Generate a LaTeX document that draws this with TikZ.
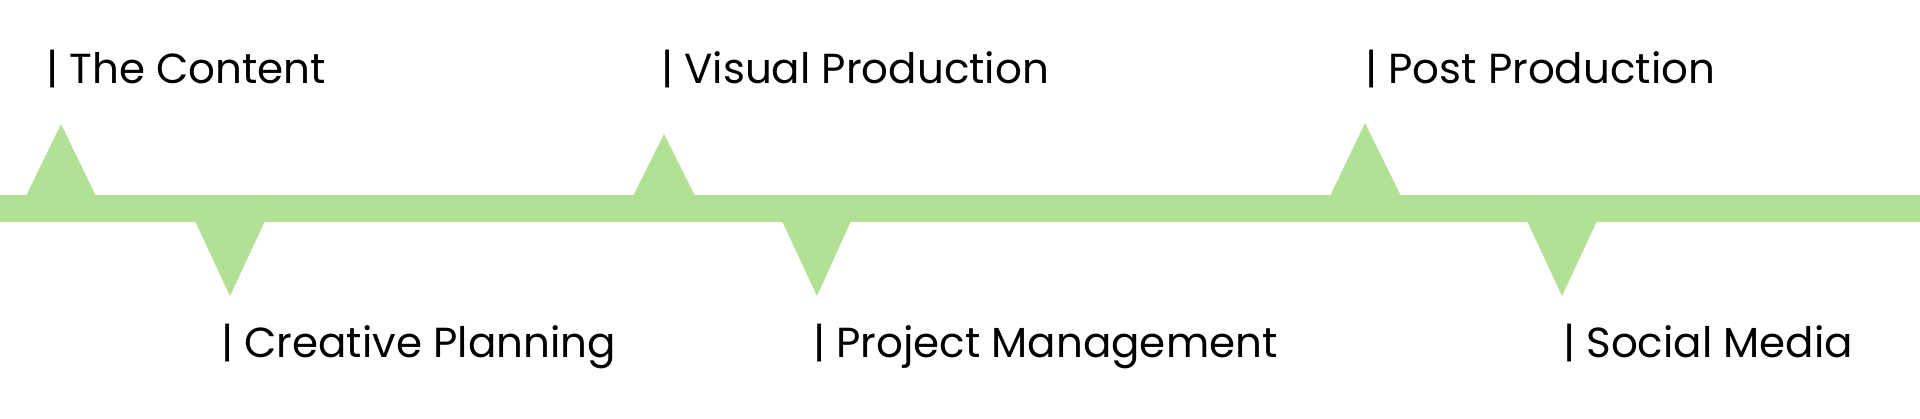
\documentclass[tikz,border=0pt]{standalone}
\usepackage{fontspec}
\setmainfont{Poppins}
\usepackage{xcolor}
\usepackage{tikz}
\definecolor{Bar-Green}{RGB}{178,224,148}
\tikzstyle{bar}=[fill=Bar-Green,draw=none]
\tikzstyle{tick}=[fill=Bar-Green,draw=none]
\tikzstyle{stage}=[anchor=base west,inner sep=0pt,outer sep=0pt,text=black,font=\fontsize{21pt}{25pt}\selectfont]

\begin{document}
\begin{tikzpicture}[x=0.5pt,y=-0.5pt]

    \useasboundingbox (0,0) rectangle (1920,418);

    % the timeline
    \fill[bar] (0,195) rectangle (1920,222);

    % markers above the line
    \fill[tick] (26,196) -- (61,124) -- (96,196) -- cycle;
    \fill[tick] (633,196) -- (664,134) -- (695,196) -- cycle;
    \fill[tick] (1330,196) -- (1365,123) -- (1401,196) -- cycle;

    % markers below the line
    \fill[tick] (195,221) -- (230,296) -- (265,221) -- cycle;
    \fill[tick] (782,221) -- (817,296) -- (851,221) -- cycle;
    \fill[tick] (1527,221) -- (1562,296) -- (1597,221) -- cycle;

    \node[stage] (content)    at (46,83)    {| The Content};
    \node[stage] (visual)     at (661,83)   {| Visual Production};
    \node[stage] (post)       at (1365,83)  {| Post Production};

    \node[stage] (creative)   at (221,357)  {| Creative Planning};
    \node[stage] (management) at (813,357)  {| Project Management};
    \node[stage] (social)     at (1563,357) {| Social Media};

\end{tikzpicture}
\end{document}
